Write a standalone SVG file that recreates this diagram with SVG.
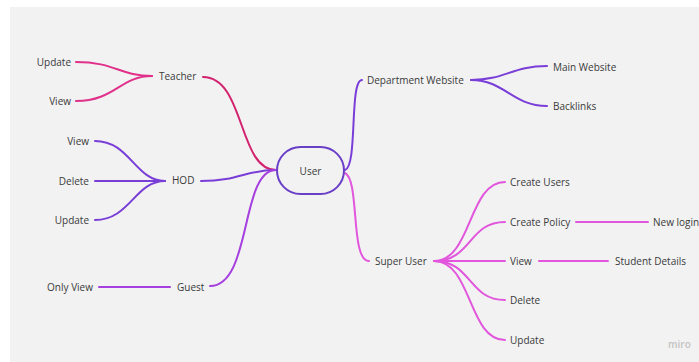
<svg xmlns="http://www.w3.org/2000/svg" width="699" height="362" viewBox="0 0 699 362">
<style>
text{font-family:"Open Sans","Noto Sans","Liberation Sans",sans-serif;font-size:10px;fill:#3a3a3a}
.e{text-anchor:end}.m{text-anchor:middle}
path{fill:none;stroke-width:2;stroke-linecap:round}
.teach{stroke:#e0308a}.teachm{stroke:#d3226f}
.hod{stroke:#7a3ed8}.guest{stroke:#a63fe0}
.dept{stroke:#7a3ed8}.su{stroke:#e156dc}
</style>
<rect x="0" y="0" width="699" height="362" fill="#ffffff"/>
<rect x="10" y="7" width="689" height="355" fill="#f2f2f2"/>
<g id="connectors">
<path class="teachm" d="M203,77 C245,77 238,170 276,170"/>
<path class="teach" d="M76,62 C115,62 120,76 152,76"/>
<path class="teach" d="M76,101 C115,101 120,76 152,76"/>
<path class="hod" d="M201,181 C240,181 245,170 276,170"/>
<path class="hod" d="M95,141 C130,141 135,181 165,181"/>
<path class="hod" d="M95,181 L165,181"/>
<path class="hod" d="M95,220 C130,220 135,181 165,181"/>
<path class="guest" d="M210,286 C252,286 240,170 276,170"/>
<path class="guest" d="M99,287 L170,287"/>
<path class="dept" d="M345,170 C358,166 349,80 362,80"/>
<path class="dept" d="M471,80 C505,80 512,66 547,66"/>
<path class="dept" d="M471,80 C505,80 512,106 547,106"/>
<path class="su" d="M345,173 C360,180 350,261 369,261"/>
<path class="su" d="M434,261 C472,261 468,182 505,182"/>
<path class="su" d="M434,261 C472,261 468,222 505,222"/>
<path class="su" d="M434,261 L505,261"/>
<path class="su" d="M434,261 C472,261 468,300 505,300"/>
<path class="su" d="M434,261 C472,261 468,340 505,340"/>
<path class="su" d="M576,222 L648,222"/>
<path class="su" d="M539,261 L608,261"/>
</g>
<g id="user"><rect x="277" y="147" width="67" height="47" rx="23.5" fill="#f2f2f2" stroke="#6a3fc8" stroke-width="2"/><text class="m" x="310.5" y="174.5">User</text></g>
<g id="teacher"><text x="159" y="79.5">Teacher</text></g>
<g id="teacher-update"><text class="e" x="71" y="65.5">Update</text></g>
<g id="teacher-view"><text class="e" x="71" y="104.5">View</text></g>
<g id="hod"><text x="172" y="184">HOD</text></g>
<g id="hod-view"><text class="e" x="89" y="144.5">View</text></g>
<g id="hod-delete"><text class="e" x="89" y="184.5">Delete</text></g>
<g id="hod-update"><text class="e" x="89" y="223.5">Update</text></g>
<g id="guest"><text x="177" y="290.5">Guest</text></g>
<g id="only-view"><text class="e" x="93" y="290.5">Only View</text></g>
<g id="dept"><text x="367" y="83.5">Department Website</text></g>
<g id="main-website"><text x="553" y="70.5">Main Website</text></g>
<g id="backlinks"><text x="553" y="109.5">Backlinks</text></g>
<g id="super-user"><text x="375" y="264.5">Super User</text></g>
<g id="create-users"><text x="510" y="185.5">Create Users</text></g>
<g id="create-policy"><text x="510" y="225.5">Create Policy</text></g>
<g id="new-login"><text x="653" y="225.5">New login</text></g>
<g id="su-view"><text x="510" y="264.5">View</text></g>
<g id="student-details"><text x="615" y="264.5">Student Details</text></g>
<g id="su-delete"><text x="510" y="303.5">Delete</text></g>
<g id="su-update"><text x="510" y="343.5">Update</text></g>
<text x="668" y="348" style="fill:#c4c4c4;font-weight:600">miro</text>
</svg>
